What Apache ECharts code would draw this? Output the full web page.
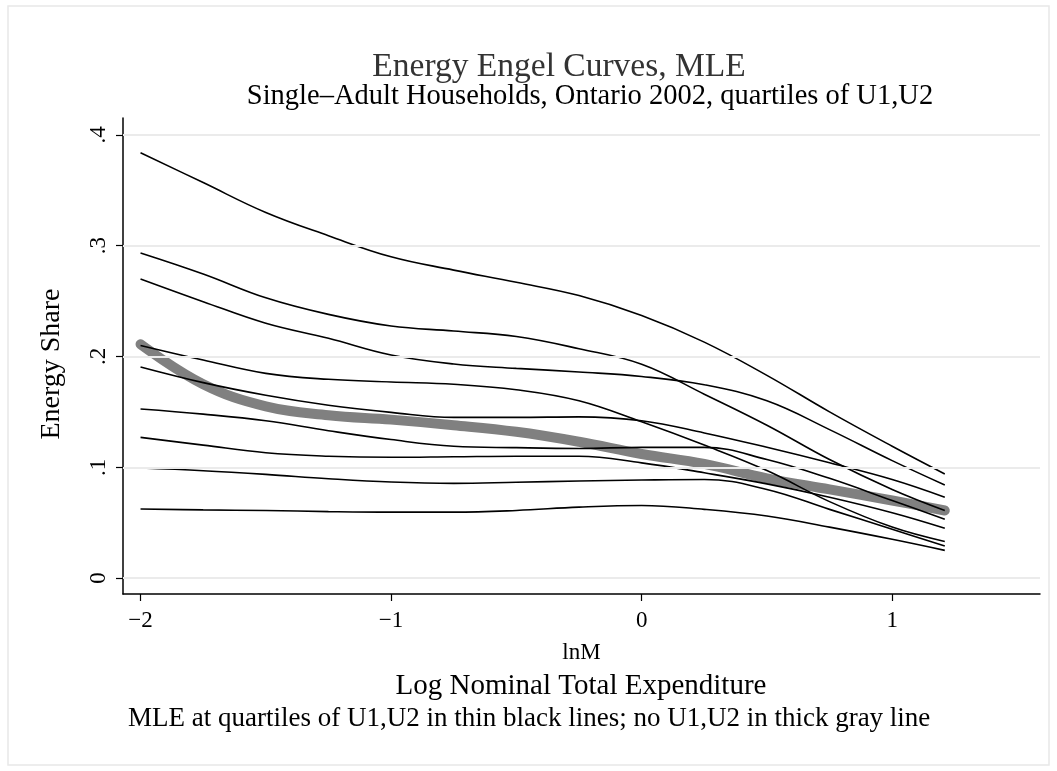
<!DOCTYPE html>
<html>
<head>
<meta charset="utf-8">
<title>Energy Engel Curves, MLE</title>
<script src="https://cdn.jsdelivr.net/npm/echarts@6.0.0/dist/echarts.min.js"></script>
<style>
    html, body { margin: 0; padding: 0; background: #fff; }
    #engelChart { width: 1057px; height: 771px; }
</style>
</head>
<body>
<div id="engelChart"></div>
<script>
// log nominal total expenditure, shared by every curve
const lnM = [-2, -1.75, -1.5, -1.25, -1, -0.75, -0.5, -0.25, 0, 0.25, 0.5, 0.75, 1, 1.21];

// MLE energy share at quartiles of U1,U2 (thin black lines)
const mleQ1 = [0.384, 0.357, 0.330, 0.309, 0.290, 0.278, 0.267, 0.255, 0.237, 0.213, 0.183, 0.150, 0.119, 0.094];
const mleQ2 = [0.2935, 0.2745, 0.253, 0.238, 0.2275, 0.223, 0.218, 0.207, 0.193, 0.166, 0.138, 0.107, 0.080, 0.061];
const mleQ3 = [0.270, 0.2495, 0.230, 0.2164, 0.2013, 0.1932, 0.1893, 0.186, 0.182, 0.1745, 0.160, 0.134, 0.106, 0.084];
const mleQ4 = [0.210, 0.1968, 0.1848, 0.1794, 0.177, 0.175, 0.170, 0.160, 0.141, 0.120, 0.097, 0.069, 0.046, 0.033];
const mleQ5 = [0.1905, 0.1764, 0.165, 0.156, 0.1496, 0.145, 0.145, 0.1455, 0.142, 0.131, 0.118, 0.104, 0.089, 0.073];
const mleQ6 = [0.1526, 0.148, 0.142, 0.133, 0.125, 0.119, 0.1177, 0.117, 0.118, 0.118, 0.107, 0.090, 0.070, 0.053];
const mleQ7 = [0.127, 0.120, 0.1131, 0.110, 0.109, 0.1095, 0.110, 0.110, 0.104, 0.095, 0.085, 0.073, 0.059, 0.045];
const mleQ8 = [0.0993, 0.0969, 0.0936, 0.0897, 0.0867, 0.0855, 0.0865, 0.0876, 0.0885, 0.089, 0.080, 0.062, 0.044, 0.029];
const mleQ9 = [0.0623, 0.0615, 0.061, 0.060, 0.0595, 0.0595, 0.061, 0.064, 0.0655, 0.062, 0.056, 0.046, 0.035, 0.025];

// no U1,U2 (thick gray line)
const mleNoU = [0.211, 0.175, 0.155, 0.147, 0.143, 0.138, 0.132, 0.123, 0.112, 0.103, 0.090, 0.080, 0.070, 0.061];

const xTicks = [-2, -1, 0, 1];
const yTicks = [0, 0.1, 0.2, 0.3, 0.4];
const yTickLabels = ['0', '.1', '.2', '.3', '.4'];

const SERIF = '"Liberation Serif", "DejaVu Serif", serif';

window.onload = () => {
    new EngelChartVm().main();
};

class EngelChartVm {
    chart;

    main() {
        this.chart = echarts.init(document.getElementById('engelChart'));
        this.chart.setOption(this.buildOption());
    }

    toPairs(values) {
        return values.map((v, i) => [lnM[i], v]);
    }

    text(x, y, text, size, opts) {
        return {
            type: 'text',
            silent: true,
            x: x,
            y: y,
            rotation: (opts && opts.rotation) || 0,
            style: {
                text: text,
                textAlign: (opts && opts.align) || 'center',
                textVerticalAlign: 'middle',
                font: size + 'px ' + SERIF,
                fill: (opts && opts.color) || '#000'
            }
        };
    }

    buildOption() {
        let thinLines = [mleQ1, mleQ2, mleQ3, mleQ4, mleQ5, mleQ6, mleQ7, mleQ8, mleQ9];

        let series = [];

        // horizontal grid lines at the y ticks
        series.push({
            type: 'line',
            data: [],
            silent: true,
            z: 1,
            markLine: {
                silent: true,
                symbol: 'none',
                label: { show: false },
                lineStyle: { color: '#ebebeb', width: 2, type: 'solid' },
                data: yTicks.map(v => ({ yAxis: v }))
            }
        });

        series.push({
            name: 'no U1,U2',
            type: 'line',
            data: this.toPairs(mleNoU),
            smooth: 0.4,
            showSymbol: false,
            z: 2,
            lineStyle: { color: '#808080', width: 10, cap: 'round', join: 'round' }
        });

        thinLines.forEach((values, i) => {
            series.push({
                name: 'quartile ' + (i + 1),
                type: 'line',
                data: this.toPairs(values),
                smooth: 0.4,
                showSymbol: false,
                z: 3,
                lineStyle: { color: '#000', width: 1.6 }
            });
        });

        return {
            animation: false,
            backgroundColor: '#fff',
            grid: { left: 123, right: 17, top: 118, bottom: 177 },
            xAxis: {
                type: 'value',
                min: -2.07,
                max: 1.59,
                name: 'lnM',
                nameLocation: 'middle',
                nameGap: 47,
                nameTextStyle: { fontFamily: SERIF, fontSize: 23, color: '#000' },
                axisLine: { onZero: false, lineStyle: { color: '#000', width: 1.5 } },
                axisTick: { show: true, length: 7, customValues: xTicks, lineStyle: { color: '#000', width: 1.2 } },
                axisLabel: {
                    customValues: xTicks,
                    margin: 15,
                    fontFamily: SERIF,
                    fontSize: 23,
                    color: '#000',
                    formatter: v => String(v).replace('-', '\u2212')
                },
                splitLine: { show: false }
            },
            yAxis: {
                type: 'value',
                min: -0.0144,
                max: 0.4153,
                axisLine: { onZero: false, lineStyle: { color: '#000', width: 1.5 } },
                axisTick: { show: true, length: 7, customValues: yTicks, lineStyle: { color: '#000', width: 1.2 } },
                axisLabel: {
                    customValues: yTicks,
                    rotate: 90,
                    margin: 13,
                    fontFamily: SERIF,
                    fontSize: 23,
                    color: '#000',
                    formatter: v => yTickLabels[yTicks.findIndex(t => Math.abs(t - v) < 1e-9)]
                },
                splitLine: { show: false }
            },
            graphic: [
                {
                    type: 'rect',
                    silent: true,
                    shape: { x: 8, y: 6, width: 1041, height: 759 },
                    style: { fill: 'none', stroke: '#e8e8e8', lineWidth: 1.5 }
                },
                this.text(559, 67, 'Energy Engel Curves, MLE', 33.5, { color: '#333' }),
                this.text(590, 97, 'Single\u2013Adult Households, Ontario 2002, quartiles of U1,U2', 28.5),
                this.text(52, 364, 'Energy Share', 28, { rotation: Math.PI / 2 }),
                this.text(581, 686, 'Log Nominal Total Expenditure', 29),
                this.text(128, 719, 'MLE at quartiles of U1,U2 in thin black lines; no U1,U2 in thick gray line', 27, { align: 'left' })
            ],
            series: series
        };
    }
}
</script>
</body>
</html>
